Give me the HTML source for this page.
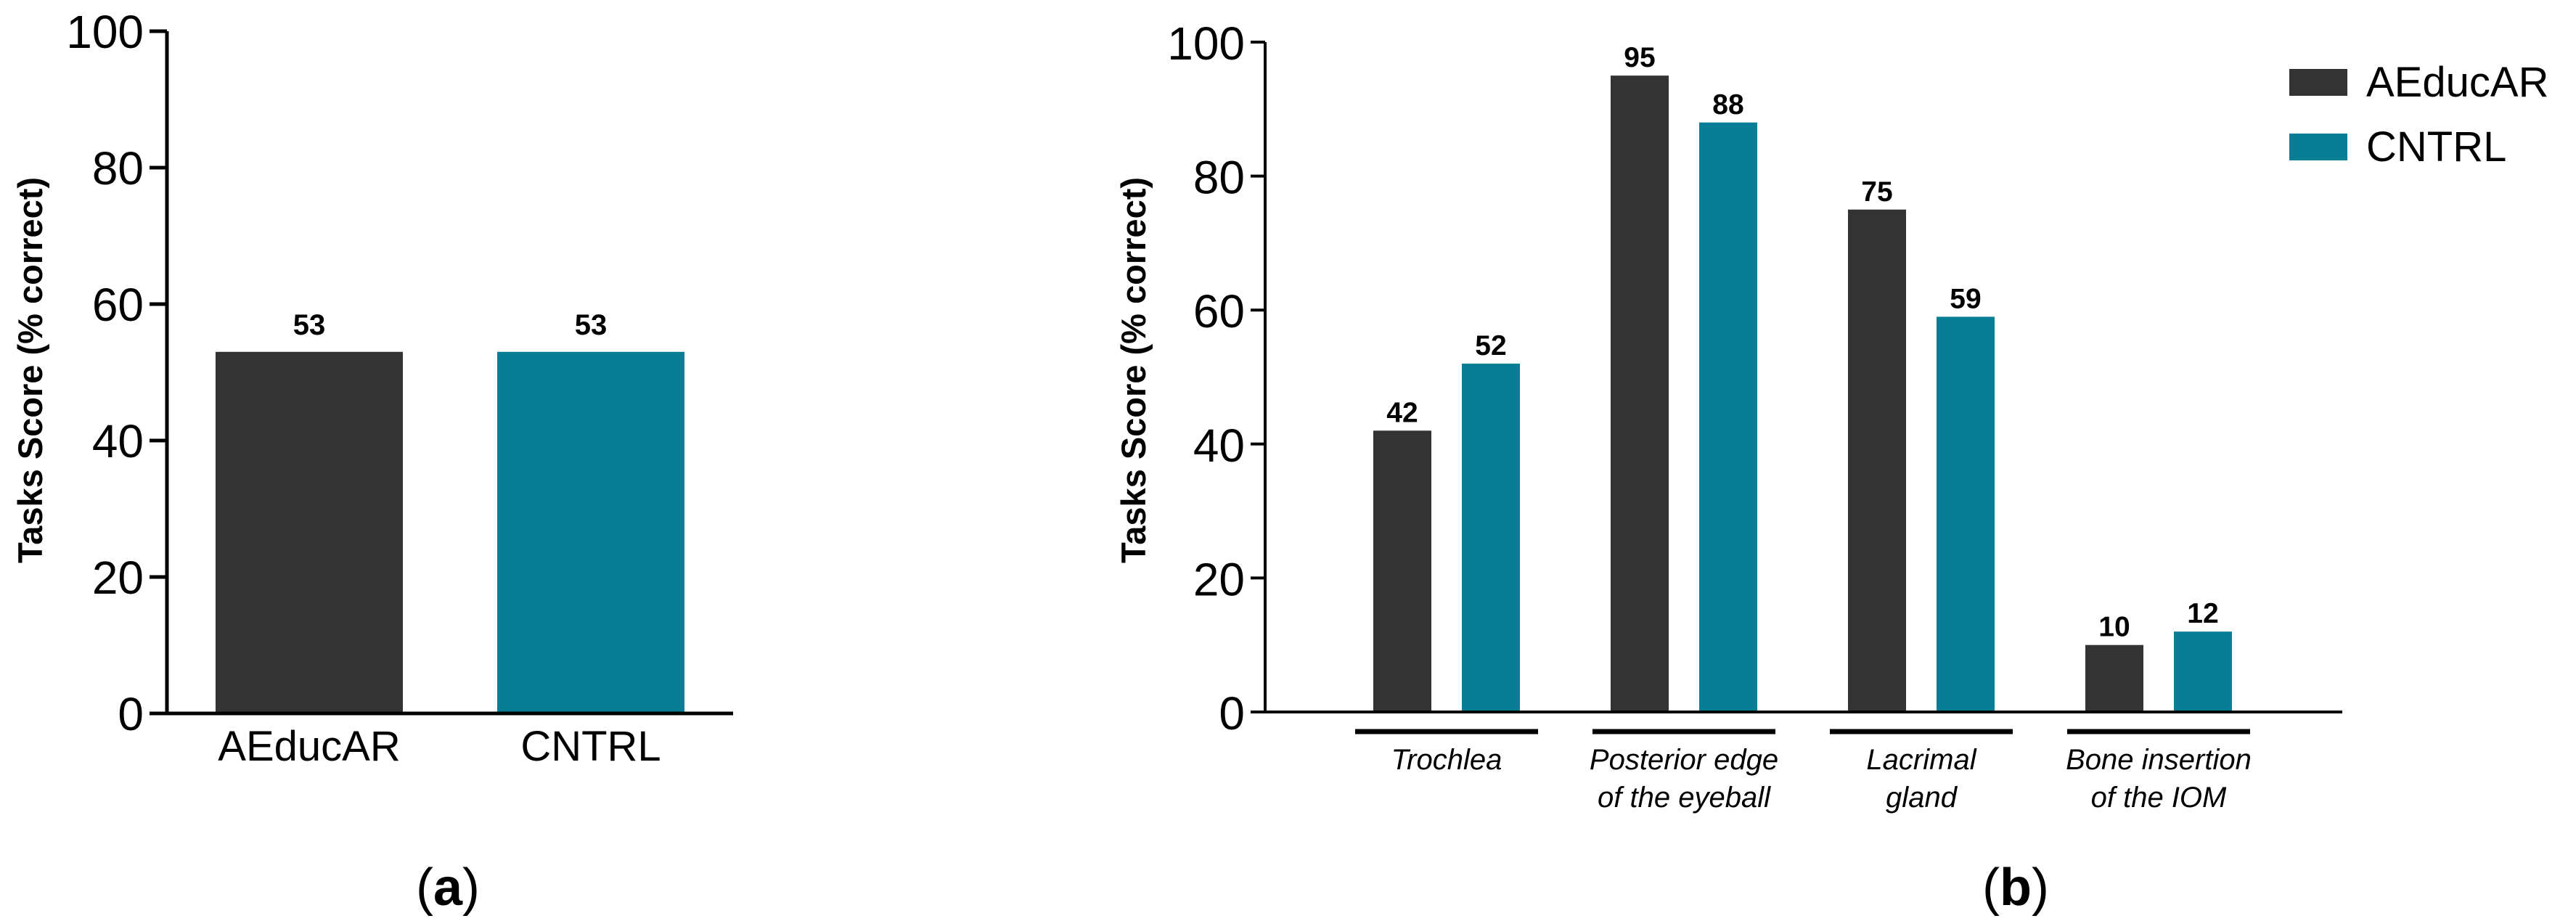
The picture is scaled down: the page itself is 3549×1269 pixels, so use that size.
<!DOCTYPE html>
<html><head><meta charset="utf-8"><style>
html,body{margin:0;padding:0;background:#fff}
svg{display:block}
text{font-family:"Liberation Sans",sans-serif}
</style></head><body>
<svg width="3549" height="1269" viewBox="0 0 3549 1269">
<g id="chartA"></g>
<g id="chartB"></g>
<text x="617" y="1247" text-anchor="middle" font-family="Liberation Serif" font-size="72">(<tspan font-weight="bold">a</tspan>)</text>
<text x="2777" y="1247" text-anchor="middle" font-family="Liberation Serif" font-size="72">(<tspan font-weight="bold">b</tspan>)</text>
</svg>
<script>
const aCategories = ["AEducAR","CNTRL"];
const aValues = [53,53];
const yTicks = [0,20,40,60,80,100];
const bCategories = [["Trochlea"],["Posterior edge","of the eyeball"],["Lacrimal","gland"],["Bone insertion","of the IOM"]];
const bAEducAR = [42,95,75,10];
const bCNTRL = [52,88,59,12];
const seriesNames = ["AEducAR","CNTRL"];

const NS="http://www.w3.org/2000/svg";
const DARK="#333333", TEAL="#077d96";
function mk(parent,tag,attrs,txt){const e=document.createElementNS(NS,tag);for(const k in attrs)e.setAttribute(k,attrs[k]);if(txt!==undefined)e.textContent=txt;parent.appendChild(e);return e;}

// Chart A
(function(){
  const g=document.getElementById('chartA');
  const y=v=>983-v*(983-43)/100;
  const axX=230;
  const catX=i=>426+i*388;
  const bw=258;
  aValues.forEach((v,i)=>{
    const r=mk(g,'rect',{x:catX(i)-bw/2,y:y(v),width:bw,height:y(0)-y(v),fill:i?TEAL:DARK});
    
    
    const t=mk(g,'text',{x:catX(i),y:y(v)-24,'text-anchor':'middle','font-size':40,'font-weight':'bold'},String(v));
    
    
    const c=mk(g,'text',{x:catX(i),y:1048,'text-anchor':'middle','font-size':58},aCategories[i]);
    
    
  });
  const ya=mk(g,'line',{x1:axX,y1:y(100),x2:axX,y2:y(0)+2,stroke:'#000','stroke-width':5});
  
  
  const xa=mk(g,'line',{x1:axX-24,y1:y(0),x2:1010,y2:y(0),stroke:'#000','stroke-width':5});
  
  
  yTicks.forEach(v=>{
    const l=mk(g,'line',{x1:axX-24,y1:y(v),x2:axX,y2:y(v),stroke:'#000','stroke-width':5});
    
    
    const t=mk(g,'text',{x:198,y:y(v)+23,'text-anchor':'end','font-size':64},String(v));
    
    
  });
  const tt=mk(g,'text',{x:0,y:0,transform:'translate(58,510) rotate(-90)','text-anchor':'middle','font-size':47,'font-weight':'bold'},'Tasks Score (% correct)');
  
  
})();

// Chart B
(function(){
  const g=document.getElementById('chartB');
  const y=v=>981-v*(981-58)/100;
  const axX=1743;
  const gc=i=>1993+i*327;
  const bw=80, off=61;
  bCategories.forEach((cat,i)=>{
    [bAEducAR[i],bCNTRL[i]].forEach((v,s)=>{
      const cx=gc(i)+(s?off:-off);
      const r=mk(g,'rect',{x:cx-bw/2,y:y(v),width:bw,height:y(0)-y(v),fill:s?TEAL:DARK});
      
      
      const t=mk(g,'text',{x:cx,y:y(v)-12,'text-anchor':'middle','font-size':39,'font-weight':'bold'},String(v));
      
      
    });
    const u=mk(g,'line',{x1:gc(i)-126,y1:1008,x2:gc(i)+126,y2:1008,stroke:'#000','stroke-width':7});
    
    
    cat.forEach((ln,k)=>{
      const t=mk(g,'text',{x:gc(i),y:1060+k*52,'text-anchor':'middle','font-size':40,'font-style':'italic'},ln);
      
      
    });
  });
  const ya=mk(g,'line',{x1:axX,y1:y(100),x2:axX,y2:y(0)+2,stroke:'#000','stroke-width':4});
  
  
  const xa=mk(g,'line',{x1:axX-20,y1:y(0),x2:3227,y2:y(0),stroke:'#000','stroke-width':4});
  
  
  yTicks.forEach(v=>{
    const l=mk(g,'line',{x1:axX-20,y1:y(v),x2:axX,y2:y(v),stroke:'#000','stroke-width':4});
    
    
    const t=mk(g,'text',{x:1715,y:y(v)+24,'text-anchor':'end','font-size':64},String(v));
    
    
  });
  const tt=mk(g,'text',{x:0,y:0,transform:'translate(1578,510) rotate(-90)','text-anchor':'middle','font-size':47,'font-weight':'bold'},'Tasks Score (% correct)');
  
  
  seriesNames.forEach((n,s)=>{
    const r=mk(g,'rect',{x:3154,y:95+s*89,width:80,height:37,fill:s?TEAL:DARK});
    
    
    const t=mk(g,'text',{x:3260,y:133+s*89,'font-size':58},n);
    
    
  });
})();
</script>
</body></html>
